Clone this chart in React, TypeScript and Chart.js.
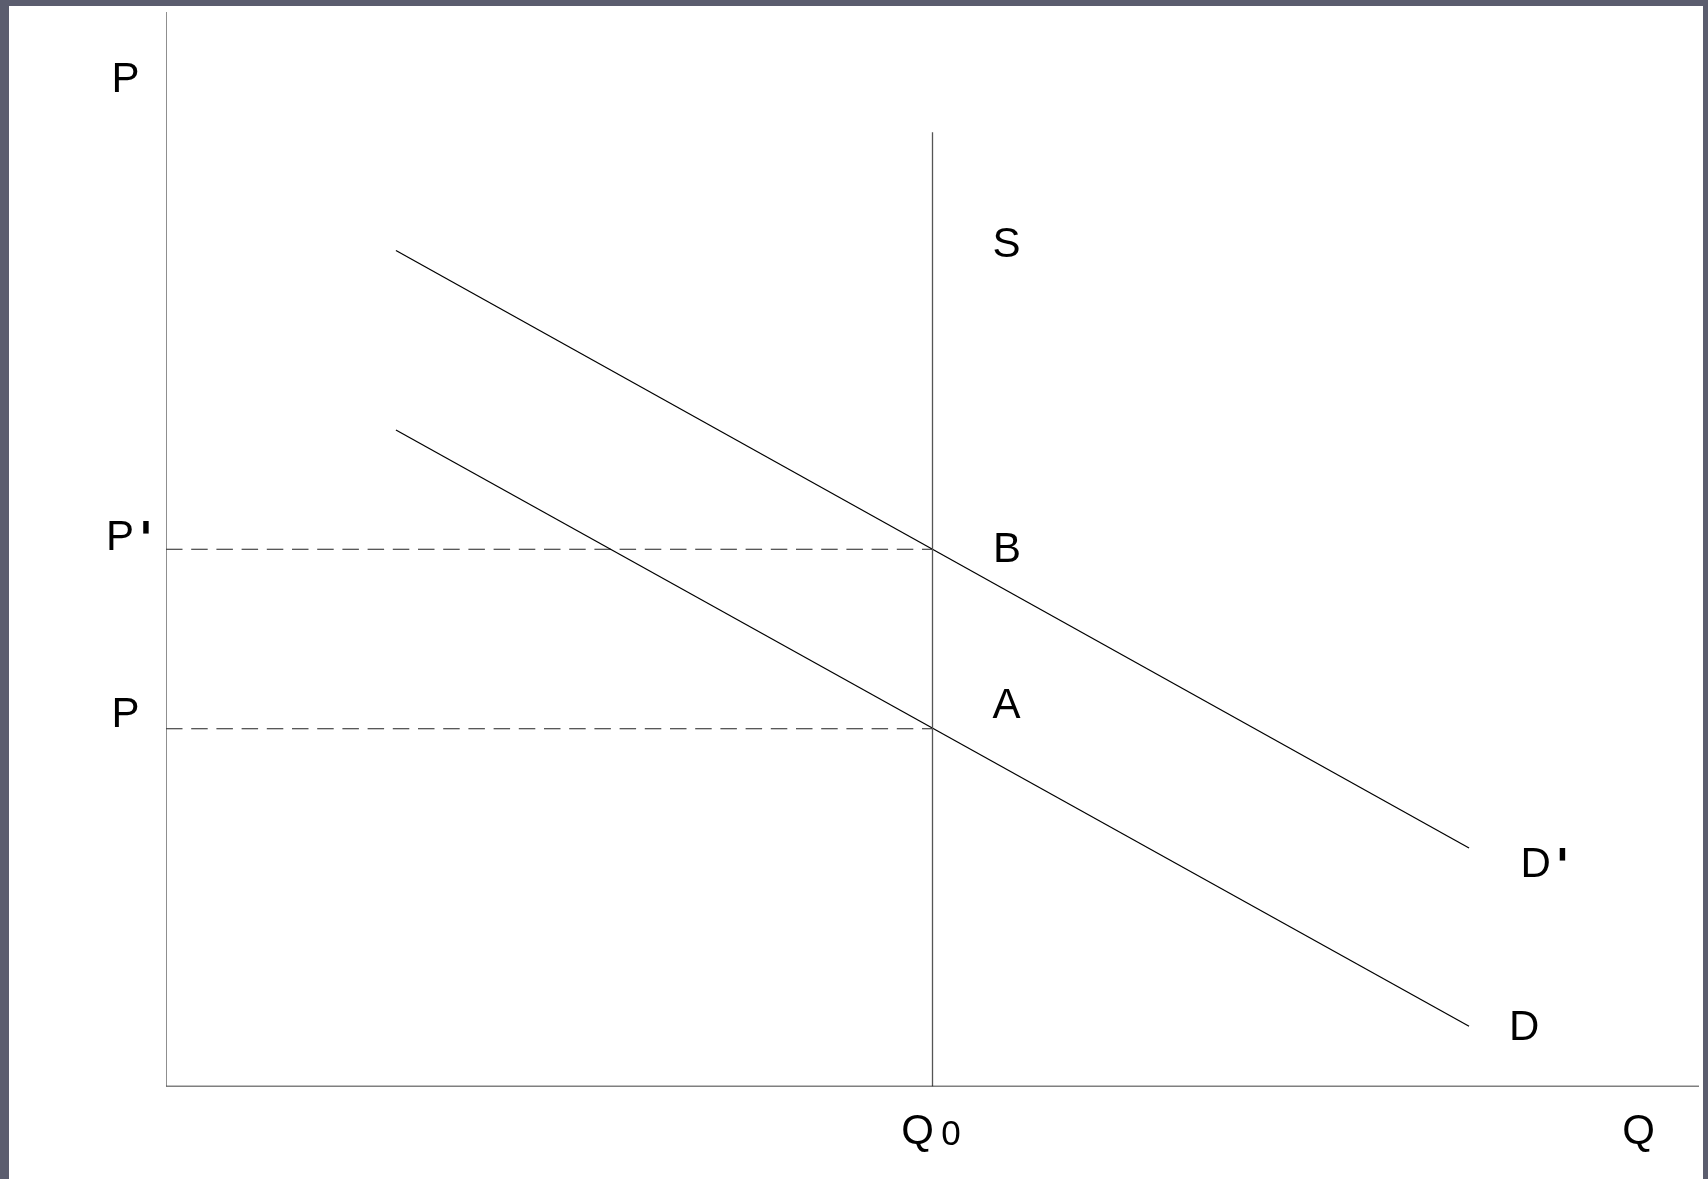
import React, { useEffect, useRef } from "react";
import { Chart, registerables } from "chart.js";

Chart.register(...registerables);

// Economic values (Q and P on a 0–100 scale)
const Q0 = 50;
const P_PRIME = 50;
const P_BASE = 33.3;
const S_TOP = 88.8;
const DEMAND_Q = [15, 85];
const DEMAND_D = [61.1, 5.6];
const DEMAND_D_PRIME = [77.8, 22.2];
const AXIS_MAX = 100;

const LABEL_TEXTS = ["P", "P'", "P", "S", "B", "A", "D'", "D", "Q", "Q0"];

const FONT = "'Liberation Sans', Arial, sans-serif";

const labelPlugin = {
  id: "econLabels",
  afterDatasetsDraw(chart: any) {
    const ctx = chart.ctx;
    const xs = chart.scales.x;
    const ys = chart.scales.y;
    const px = (v: number) => xs.getPixelForValue(v);
    const py = (v: number) => ys.getPixelForValue(v);
    ctx.save();
    ctx.fillStyle = "#000";
    ctx.textAlign = "center";
    ctx.textBaseline = "alphabetic";
    const big = `42px ${FONT}`;
    const primeFont = `bold 47px 'DejaVu Sans', sans-serif`;
    const draw = (t: string, x: number, y: number, f = big) => {
      ctx.font = f;
      ctx.fillText(t, x, y);
    };
    const prime = (x: number, y: number) => {
      ctx.font = primeFont;
      ctx.fillText("'", x, y);
    };
    const axisX = px(0);
    // Top P (axis title)
    draw(LABEL_TEXTS[0], axisX - 40.5, 92);
    // P'
    draw("P", axisX - 46, py(P_PRIME) + 0.5);
    prime(axisX - 20, py(P_PRIME) + 5.5);
    // P
    draw(LABEL_TEXTS[2], axisX - 40.5, py(P_BASE) - 2);
    // S
    draw(LABEL_TEXTS[3], px(Q0) + 74, 257);
    // B
    draw(LABEL_TEXTS[4], px(Q0) + 74.5, py(P_PRIME) + 13);
    // A
    draw(LABEL_TEXTS[5], px(Q0) + 74, py(P_BASE) - 10.5);
    // D'
    const dpEndX = px(DEMAND_Q[1]);
    draw("D", dpEndX + 66.5, py(DEMAND_D_PRIME[1]) + 29);
    prime(dpEndX + 93.5, py(DEMAND_D_PRIME[1]) + 34.5);
    // D
    draw(LABEL_TEXTS[7], dpEndX + 55, py(DEMAND_D[1]) + 14);
    // Q
    const baseY = py(0);
    draw(LABEL_TEXTS[8], px(AXIS_MAX) - 60.5, baseY + 57.5);
    // Q0
    draw("Q", px(Q0) - 15, baseY + 57.5);
    draw("0", px(Q0) + 18.5, baseY + 58.5, `35px ${FONT}`);
    ctx.restore();
  },
};

function seg(x1: number, y1: number, x2: number, y2: number) {
  return [
    { x: x1, y: y1 },
    { x: x2, y: y2 },
  ];
}

export default function App() {
  const ref = useRef<HTMLCanvasElement | null>(null);

  useEffect(() => {
    if (!ref.current) return;
    const common = { pointRadius: 0, borderWidth: 1, fill: false, tension: 0, showLine: true };
    const chart = new Chart(ref.current, {
      type: "scatter",
      data: {
        datasets: [
          { ...common, label: "P axis", data: seg(0, 0, 0, AXIS_MAX), borderColor: "#444", borderWidth: 1.2 },
          { ...common, label: "Q axis", data: seg(0, 0, AXIS_MAX, 0), borderColor: "#000", borderWidth: 1.6 },
          { ...common, label: "S", data: seg(Q0, 0, Q0, S_TOP), borderColor: "#555", borderWidth: 1.3 },
          {
            ...common,
            label: "D'",
            data: seg(DEMAND_Q[0], DEMAND_D_PRIME[0], DEMAND_Q[1], DEMAND_D_PRIME[1]),
            borderColor: "#000",
            borderWidth: 1.25,
          },
          {
            ...common,
            label: "D",
            data: seg(DEMAND_Q[0], DEMAND_D[0], DEMAND_Q[1], DEMAND_D[1]),
            borderColor: "#000",
            borderWidth: 1.25,
          },
          {
            ...common,
            label: "P' level",
            data: seg(0, P_PRIME, Q0, P_PRIME),
            borderColor: "#222",
            borderWidth: 1.1,
            borderDash: [16.5, 8.7],
          },
          {
            ...common,
            label: "P level",
            data: seg(0, P_BASE, Q0, P_BASE),
            borderColor: "#222",
            borderWidth: 1.1,
            borderDash: [16.5, 8.7],
          },
        ],
      },
      options: {
        animation: false,
        responsive: false,
        devicePixelRatio: 1,
        layout: { padding: { left: 166, right: 9, top: 12, bottom: 92.5 } },
        plugins: { legend: { display: false }, tooltip: { enabled: false } },
        events: [],
        scales: {
          x: { type: "linear", min: 0, max: AXIS_MAX, display: false },
          y: { type: "linear", min: 0, max: AXIS_MAX, display: false },
        },
      },
      plugins: [labelPlugin],
    });
    return () => chart.destroy();
  }, []);

  return (
    <div
      style={{
        position: "absolute",
        left: 0,
        top: 0,
        width: 1708,
        height: 1179,
        background: "#5b5d6e",
        overflow: "hidden",
      }}
    >
      <div
        style={{
          position: "absolute",
          left: 9,
          top: 6,
          width: 1694,
          height: 1173,
          background: "#ffffff",
        }}
      />
      <canvas
        ref={ref}
        width={1708}
        height={1179}
        style={{ position: "absolute", left: 0, top: 0, width: 1708, height: 1179 }}
      />
    </div>
  );
}
